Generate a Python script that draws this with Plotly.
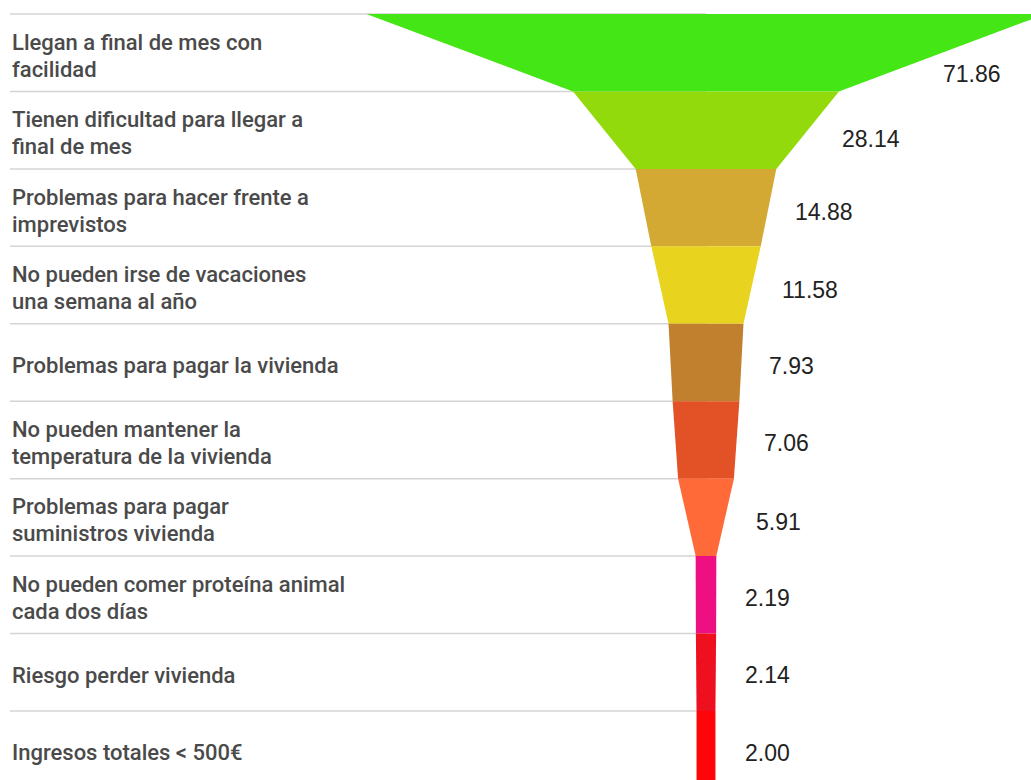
import math
import plotly.graph_objects as go

categories = [
    "Llegan a final de mes con<br>facilidad",
    "Tienen dificultad para llegar a<br>final de mes",
    "Problemas para hacer frente a<br>imprevistos",
    "No pueden irse de vacaciones<br>una semana al año",
    "Problemas para pagar la vivienda",
    "No pueden mantener la<br>temperatura de la vivienda",
    "Problemas para pagar<br>suministros vivienda",
    "No pueden comer proteína animal<br>cada dos días",
    "Riesgo perder vivienda",
    "Ingresos totales < 500€",
]
values = [71.86, 28.14, 14.88, 11.58, 7.93, 7.06, 5.91, 2.19, 2.14, 2.00]
colors = ["#45E615", "#92DA0B", "#D3A934", "#E8D41F", "#C1802E",
          "#E35127", "#FF6A38", "#EE0F82", "#EE101E", "#FF0509"]

W, Hpx = 1031, 780
S = 9.45            # px per value unit
CX = 706            # funnel centre in px
ROW = 77.44         # row height in px
TOP = 14            # first row top in px
LINE_GAP = 27       # px between label lines

fig = go.Figure()
n = len(values)
for i, v in enumerate(values):
    nxt = values[i + 1] if i + 1 < n else v
    t, b = v / 2, nxt / 2
    fig.add_trace(go.Scatter(
        x=[-t, t, b, -b, -t], y=[i, i, i + 1, i + 1, i],
        fill="toself", fillcolor=colors[i], mode="lines",
        line=dict(width=0, color=colors[i]), hoverinfo="skip",
        showlegend=False))

shapes = []
for i in range(n):
    shapes.append(dict(type="line", xref="x", yref="y", layer="below",
                       x0=(10 - CX) / S, x1=0, y0=i, y1=i,
                       line=dict(color="#D4D4D4", width=1.5)))

annotations = []
for i, (lab, v) in enumerate(zip(categories, values)):
    nxt = values[i + 1] if i + 1 < n else v
    lines = lab.split("<br>")
    k = len(lines)
    for j, ln in enumerate(lines):
        dy = 3 + (j - (k - 1) / 2) * LINE_GAP
        annotations.append(dict(
            xref="paper", yref="y", x=10 / W, y=i + 0.5 + dy / ROW,
            text=ln, showarrow=False, xanchor="left", yanchor="middle",
            align="left",
            font=dict(family="Roboto", size=22, weight=500, color="#4A4A4A")))
    off_px = max(32 * math.sqrt(v) - 5, 61)
    dy_px = 3 + 0.42 * (v - nxt)
    annotations.append(dict(
        xref="x", yref="y", x=off_px / S, y=i + 0.5 + dy_px / ROW,
        text=f"{v:.2f}", showarrow=False, xanchor="center", yanchor="middle",
        font=dict(family="Liberation Sans", size=23, color="#222222")))

fig.update_layout(
    width=W, height=Hpx, margin=dict(l=0, r=0, t=0, b=0),
    paper_bgcolor="white", plot_bgcolor="white",
    xaxis=dict(range=[-CX / S, (W - CX) / S], visible=False, fixedrange=True),
    yaxis=dict(range=[(Hpx - TOP) / ROW, -TOP / ROW], visible=False, fixedrange=True),
    shapes=shapes, annotations=annotations,
)
fig.write_html(
    "out.html", config={"displayModeBar": False},
    post_script="document.body.style.margin='0';document.body.style.overflow='hidden';")
